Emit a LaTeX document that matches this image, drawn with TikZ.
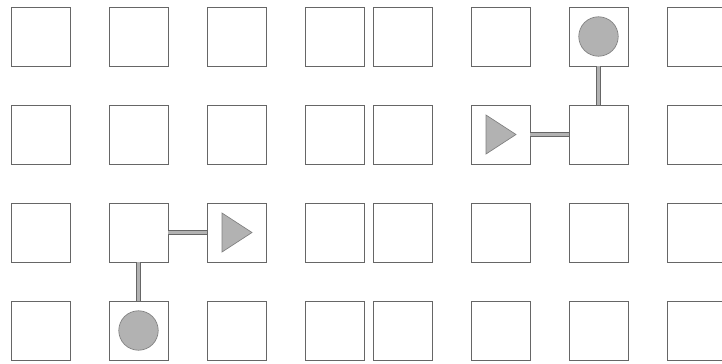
\documentclass[tikz,border=0pt]{standalone}
\usepackage{tikz}
\usetikzlibrary{positioning}

\begin{document}
\begin{tikzpicture}[
    x=0.75pt, y=-0.75pt,
    cell/.style={rectangle, draw=black!60, fill=white, line width=0.6pt, minimum size=44.25pt, inner sep=0pt, outer sep=0pt},
    piece/.style={draw=black!50, fill=black!30, line width=0.5pt},
    link/.style={draw=black!60, double=black!30, double distance=2.4pt, line width=0.6pt}
]
    \useasboundingbox (0,0) rectangle (722,364);

    % Left board
    \foreach \r in {1,...,4}
        \foreach \c in {1,...,4}
            \node[cell] (L\r\c) at ({40.5+98*(\c-1)}, {36.5+98*(\r-1)}) {};

    % Right board
    \foreach \r in {1,...,4}
        \foreach \c in {1,...,4}
            \node[cell] (R\r\c) at ({402.5+98*(\c-1)}, {36.5+98*(\r-1)}) {};

    % Left pieces
    \node[piece, circle, minimum size=29.6pt, inner sep=0pt] (BallL) at (L42) {};
    \filldraw[piece] (L33.west) ++(15,-19.5) -- ++(30,19.5) -- ++(-30,19.5) -- cycle;

    % Right pieces
    \node[piece, circle, minimum size=29.6pt, inner sep=0pt] (BallR) at (R13) {};
    \filldraw[piece] (R22.west) ++(15,-19.5) -- ++(30,19.5) -- ++(-30,19.5) -- cycle;

    % Links
    \draw[link] (L32.east) -- (L33.west);
    \draw[link] (L32.south) -- (L42.north);
    \draw[link] (R22.east) -- (R23.west);
    \draw[link] (R13.south) -- (R23.north);
\end{tikzpicture}
\end{document}
